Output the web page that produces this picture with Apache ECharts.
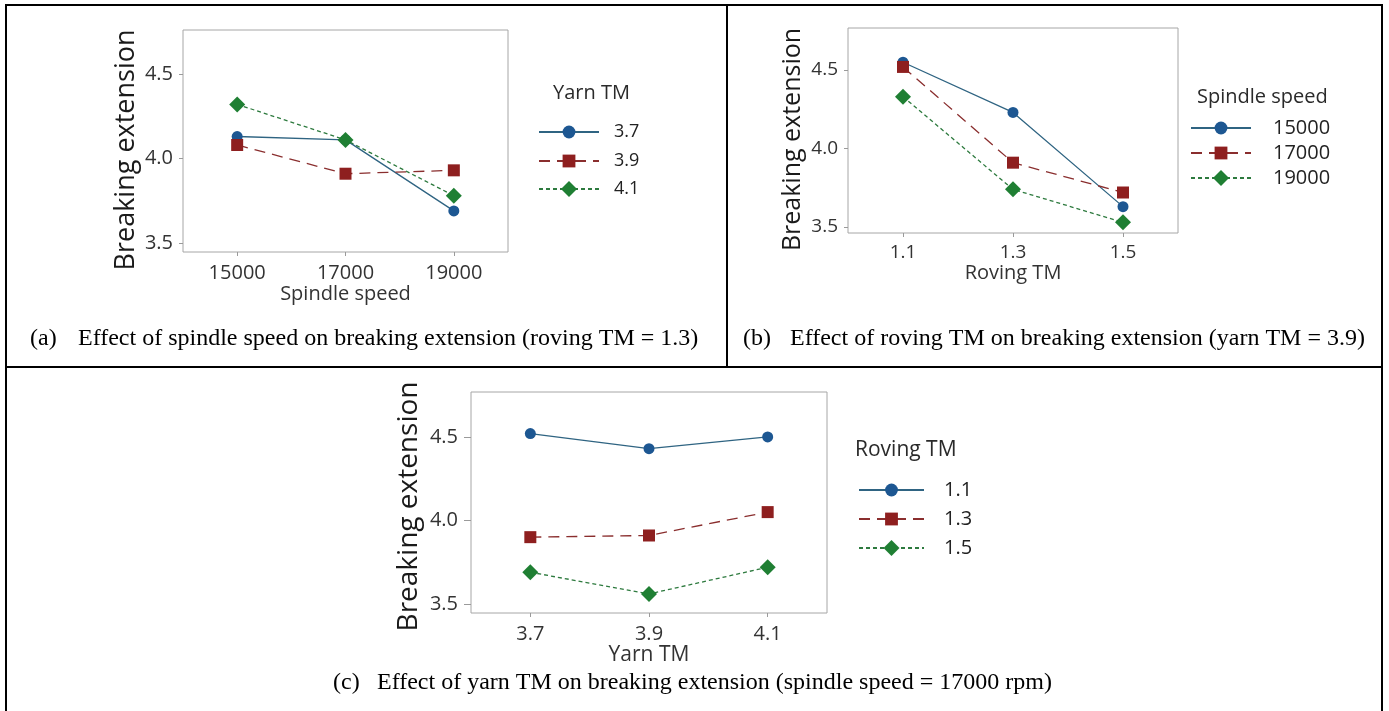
<!DOCTYPE html>
<html>
<head>
<meta charset="utf-8">
<script src="https://cdn.jsdelivr.net/npm/echarts@6/dist/echarts.min.js"></script>
<style>
html,body{margin:0;padding:0;background:#fff;}
#chart{width:1389px;height:711px;}
</style>
</head>
<body>
<div id="chart"></div>
<script>
// ---- data ----
const spindleCats = ['15000', '17000', '19000'];
const rovingCats = ['1.1', '1.3', '1.5'];
const yarnCats = ['3.7', '3.9', '4.1'];
const yTickValues = [3.5, 4.0, 4.5];

// (a) by yarn TM, roving TM = 1.3
const aYarn37 = [4.13, 4.11, 3.69];
const aYarn39 = [4.08, 3.91, 3.93];
const aYarn41 = [4.32, 4.11, 3.78];
// (b) by spindle speed, yarn TM = 3.9
const bSp15000 = [4.55, 4.23, 3.63];
const bSp17000 = [4.52, 3.91, 3.72];
const bSp19000 = [4.33, 3.74, 3.53];
// (c) by roving TM, spindle speed = 17000
const cRov11 = [4.52, 4.43, 4.50];
const cRov13 = [3.90, 3.91, 4.05];
const cRov15 = [3.69, 3.56, 3.72];

const seriesNamesA = ['3.7', '3.9', '4.1'];
const seriesNamesB = ['15000', '17000', '19000'];
const seriesNamesC = ['1.1', '1.3', '1.5'];
const legendTitles = ['Yarn TM', 'Spindle speed', 'Roving TM'];

const captions = [
  '(a)', 'Effect of spindle speed on breaking extension (roving TM = 1.3)',
  '(b)', 'Effect of roving TM on breaking extension (yarn TM = 3.9)',
  '(c)', 'Effect of yarn TM on breaking extension (spindle speed = 17000 rpm)'
];

// ---- styles ----
const SANS = '"Open Sans", "Noto Sans", sans-serif';
const SERIF = '"Liberation Serif", "Times New Roman", serif';
const BLUE = '#1d5792', RED = '#8e1f1f', GREEN = '#1f7f33';
const BLUE_L = '#2f6482', RED_L = '#8a2e2e', GREEN_L = '#2d7a3e';
const styles = [
  {color: BLUE, line: BLUE_L, symbol: 'circle', size: 11, type: 'solid', legendH: 16},
  {color: RED, line: RED_L, symbol: 'rect', size: 12, type: [11, 7], legendH: 16},
  {color: GREEN, line: GREEN_L, symbol: 'diamond', size: 16, type: [4, 3], legendH: 20}
];

const grids = [
  {left: 183, top: 30, width: 325, height: 222},
  {left: 848, top: 28, width: 330, height: 205},
  {left: 471, top: 392, width: 356, height: 221}
];
const yRanges = [[3.447, 4.760], [3.462, 4.768], [3.446, 4.769]];
const xCats = [spindleCats, rovingCats, yarnCats];
const xNames = ['Spindle speed', 'Roving TM', 'Yarn TM'];
const fonts = [
  {tick: 20, xname: 20, yname: 27, yGap: 43, yShift: 18, xGap: 32, xMargin: 11, yMargin: 10, tickLen: 4},
  {tick: 19, xname: 20, yname: 25, yGap: 43, yShift: 18, xGap: 30, xMargin: 10, yMargin: 10, tickLen: 4},
  {tick: 20, xname: 21, yname: 28, yGap: 48, yShift: 8, xGap: 32, xMargin: 11, yMargin: 13, tickLen: 7}
];
// legend layout: [left of icon, first row center, row step, font size, text gap, icon width, title x, title y, title size]
const legendLayout = [
  [538, 132, 29, 18, 10, 60, 553, 93, 20],
  [1190, 128, 25, 20, 17, 60, 1197, 97, 20],
  [858, 490, 29, 20, 15, 65, 855, 450, 21]
];

const option = {
  animation: false,
  backgroundColor: '#fff',
  grid: grids.map(g => Object.assign({show: true, borderColor: '#a6a6a6', borderWidth: 1, backgroundColor: '#fff'}, g)),
  xAxis: grids.map((g, i) => ({
    type: 'category', gridIndex: i, data: xCats[i], boundaryGap: true,
    name: xNames[i], nameLocation: 'middle', nameGap: fonts[i].xGap,
    nameTextStyle: {fontFamily: SANS, fontSize: fonts[i].xname, color: '#333'},
    axisLine: {show: false},
    axisTick: {show: true, alignWithLabel: true, length: 4, lineStyle: {color: '#9a9a9a'}},
    axisLabel: {fontFamily: SANS, fontSize: fonts[i].tick, color: '#333', margin: fonts[i].xMargin},
    splitLine: {show: false}
  })),
  yAxis: grids.map((g, i) => ({
    type: 'value', gridIndex: i, min: yRanges[i][0], max: yRanges[i][1],
    name: 'Breaking extension', nameLocation: 'middle', nameGap: fonts[i].yGap,
    nameTextStyle: {fontFamily: SANS, fontSize: fonts[i].yname, color: '#1a1a1a', padding: [0, fonts[i].yShift, 0, 0]},
    axisLine: {show: false},
    axisTick: {show: true, length: fonts[i].tickLen, customValues: yTickValues, lineStyle: {color: '#9a9a9a'}},
    axisLabel: {fontFamily: SANS, fontSize: fonts[i].tick, color: '#333', margin: fonts[i].yMargin,
      customValues: yTickValues, formatter: v => Number(v).toFixed(1)},
    splitLine: {show: false}
  })),
  legend: [],
  series: [],
  graphic: []
};

const panelSeries = [
  [seriesNamesA, [aYarn37, aYarn39, aYarn41]],
  [seriesNamesB, [bSp15000, bSp17000, bSp19000]],
  [seriesNamesC, [cRov11, cRov13, cRov15]]
];
panelSeries.forEach(([names, datas], p) => {
  const L = legendLayout[p];
  datas.forEach((d, k) => {
    const s = styles[k];
    option.series.push({
      type: 'line', name: names[k], xAxisIndex: p, yAxisIndex: p, data: d,
      symbol: s.symbol, symbolSize: s.size, showSymbol: true,
      itemStyle: {color: s.color, borderWidth: 0},
      lineStyle: {color: s.line, width: 1.3, type: s.type},
      z: 3 + k
    });
    const rowH = Math.max(s.legendH, L[3]);
    option.legend.push({
      data: [names[k]], orient: 'vertical', left: L[0], top: L[1] + k * L[2] - rowH / 2,
      itemWidth: L[5], itemHeight: s.legendH, selectedMode: false, padding: 0,
      textStyle: {fontFamily: SANS, fontSize: L[3], color: '#222', padding: [0, 0, 0, L[4]]}
    });
  });
  option.graphic.push({type: 'text', x: L[6], y: L[7],
    style: {text: legendTitles[p], fontFamily: SANS, fontSize: L[8], fill: '#2a2a2a', verticalAlign: 'middle'}});
});

// captions
[[30, 78, 339], [743, 790, 339], [333, 377, 683]].forEach((c, i) => {
  option.graphic.push({type: 'text', x: c[0], y: c[2],
    style: {text: captions[2 * i], fontFamily: SERIF, fontSize: 24, fill: '#000', verticalAlign: 'middle'}});
  option.graphic.push({type: 'text', x: c[1], y: c[2],
    style: {text: captions[2 * i + 1], fontFamily: SERIF, fontSize: 24, fill: '#000', verticalAlign: 'middle'}});
});

// table borders
const borderLines = [
  [5, 5, 1383, 5], [6, 5, 6, 711], [1382, 5, 1382, 711], [5, 367, 1383, 367], [727, 5, 727, 367]
];
borderLines.forEach(b => {
  option.graphic.push({type: 'line', shape: {x1: b[0], y1: b[1], x2: b[2], y2: b[3]},
    style: {stroke: '#000', lineWidth: 2}, silent: true});
});

const chart = echarts.init(document.getElementById('chart'), null, {renderer: 'canvas'});
chart.setOption(option);
</script>
</body>
</html>
